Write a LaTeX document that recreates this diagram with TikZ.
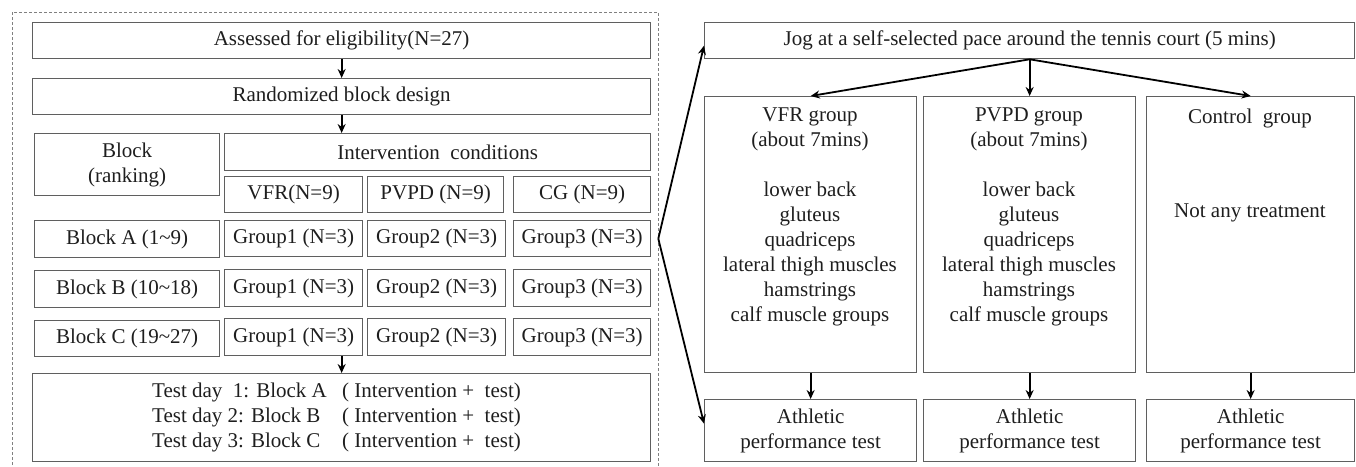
\documentclass[tikz,border=0pt]{standalone}
\usepackage{fontspec}
\setmainfont{Liberation Serif}
\newfontfamily\diagfont{Liberation Serif}
\usetikzlibrary{arrows.meta,calc}
\definecolor{edge}{RGB}{95,95,95}
\definecolor{txt}{RGB}{30,30,30}
% box given by its corners (x1,y1) (x2,y2), y counted downwards
\newcommand\bx[6]{\node[box, minimum width={#4pt-#2pt}, minimum height={#5pt-#3pt}] (#1) at (#2,#3) {#6};}
\begin{document}
\begin{tikzpicture}[x=1pt,y=-1pt,
  every node/.style={font=\diagfont\fontsize{21}{25}\selectfont, text=txt},
  box/.style={draw=edge, line width=1.3pt, inner sep=0pt, anchor=north west, align=center},
  txtnode/.style={inner sep=0pt, align=center},
  arr/.style={-{Stealth[length=9pt,width=8pt]}, line width=1.8pt, draw=black},
  dashframe/.style={draw=gray, line width=1pt, dash pattern=on 3pt off 2pt}]
\useasboundingbox (0,0) rectangle (1356,466);

% ---------- left panel: randomized block design ----------
\draw[dashframe] (12,470) -- (12,12) -- (658,12) -- (658,470);
\bx{assess}{32}{22}{650}{58}{Assessed for eligibility(N=27)}
\bx{rand}{32}{78}{650}{114}{Randomized block design}
\bx{blk}{34}{133}{219}{195}{Block\\(ranking)}
\bx{inter}{224}{133}{650}{170}{Intervention\ \ conditions}
\bx{vfr}{224}{176}{362}{212}{VFR(N=9)}
\bx{pvpd}{367}{176}{503}{212}{PVPD (N=9)}
\bx{cg}{513}{176}{650}{212}{CG (N=9)}

\bx{ba}{34}{220}{219}{257}{Block A (1\textasciitilde 9)}
\bx{ga1}{224}{220}{362}{256}{Group1 (N=3)}
\bx{ga2}{367}{220}{505}{256}{Group2 (N=3)}
\bx{ga3}{513}{220}{650}{256}{Group3 (N=3)}

\bx{bb}{34}{270}{219}{307}{Block B (10\textasciitilde 18)}
\bx{gb1}{224}{269}{362}{306}{Group1 (N=3)}
\bx{gb2}{367}{269}{505}{306}{Group2 (N=3)}
\bx{gb3}{513}{269}{650}{306}{Group3 (N=3)}

\bx{bc}{34}{320}{219}{356}{Block C (19\textasciitilde 27)}
\bx{gc1}{224}{318}{362}{355}{Group1 (N=3)}
\bx{gc2}{367}{318}{505}{355}{Group2 (N=3)}
\bx{gc3}{513}{318}{650}{355}{Group3 (N=3)}

\bx{test}{32}{373}{650}{461}{}
\node[txtnode, align=left, anchor=west] (testtxt) at (152,417)
  {\makebox[190pt][l]{Test day\ \ 1: Block A}( Intervention +\ \ test)\\
   \makebox[190pt][l]{Test day 2: Block B}( Intervention +\ \ test)\\
   \makebox[190pt][l]{Test day 3: Block C}( Intervention +\ \ test)};

\draw[arr] (assess) -- (rand);
\draw[arr] (rand.south) -- (rand.south |- inter.north);
\draw[arr] (gc1.south -| test.north) -- (test.north);

% ---------- right panel: session protocol ----------
\bx{jog}{704}{22}{1354}{58}{Jog at a self-selected pace around the tennis court (5 mins)}
\bx{vfrg}{704}{96}{916}{372}{}
\bx{pvpdg}{923}{96}{1135}{372}{}
\bx{ctrl}{1146}{96}{1354}{372}{}
\node[txtnode, anchor=north] (vfrtxt) at (810,108)
  {VFR group\\(about 7mins)\\[25pt]lower back\\gluteus\\quadriceps\\lateral thigh muscles\\hamstrings\\calf muscle groups};
\node[txtnode, anchor=north] (pvpdtxt) at (1029,108)
  {PVPD group\\(about 7mins)\\[25pt]lower back\\gluteus\\quadriceps\\lateral thigh muscles\\hamstrings\\calf muscle groups};
\node[txtnode, anchor=north] (ctrltxt) at (1250,109)
  {Control\ \ group\\[69pt]Not any treatment};

\bx{atha}{704}{399}{916}{461}{Athletic\\performance test}
\bx{athb}{923}{399}{1135}{461}{Athletic\\performance test}
\bx{athc}{1146}{399}{1354}{461}{Athletic\\performance test}

\draw[arr] (jog.south) -- (vfrg.north);
\draw[arr] (jog.south) -- (pvpdg.north);
\draw[arr] (jog.south) -- (ctrl.north);
\draw[arr] (vfrg) -- (atha);
\draw[arr] (pvpdg) -- (athb);
\draw[arr] (ctrl) -- (athc);

% link between the two panels
\coordinate (split) at ([xshift=7pt]ga3.east);
\draw[arr] (split) -- ([yshift=-5pt]jog.west);
\draw[arr] (split) -- ([yshift=7pt]atha.west);
\end{tikzpicture}
\end{document}
